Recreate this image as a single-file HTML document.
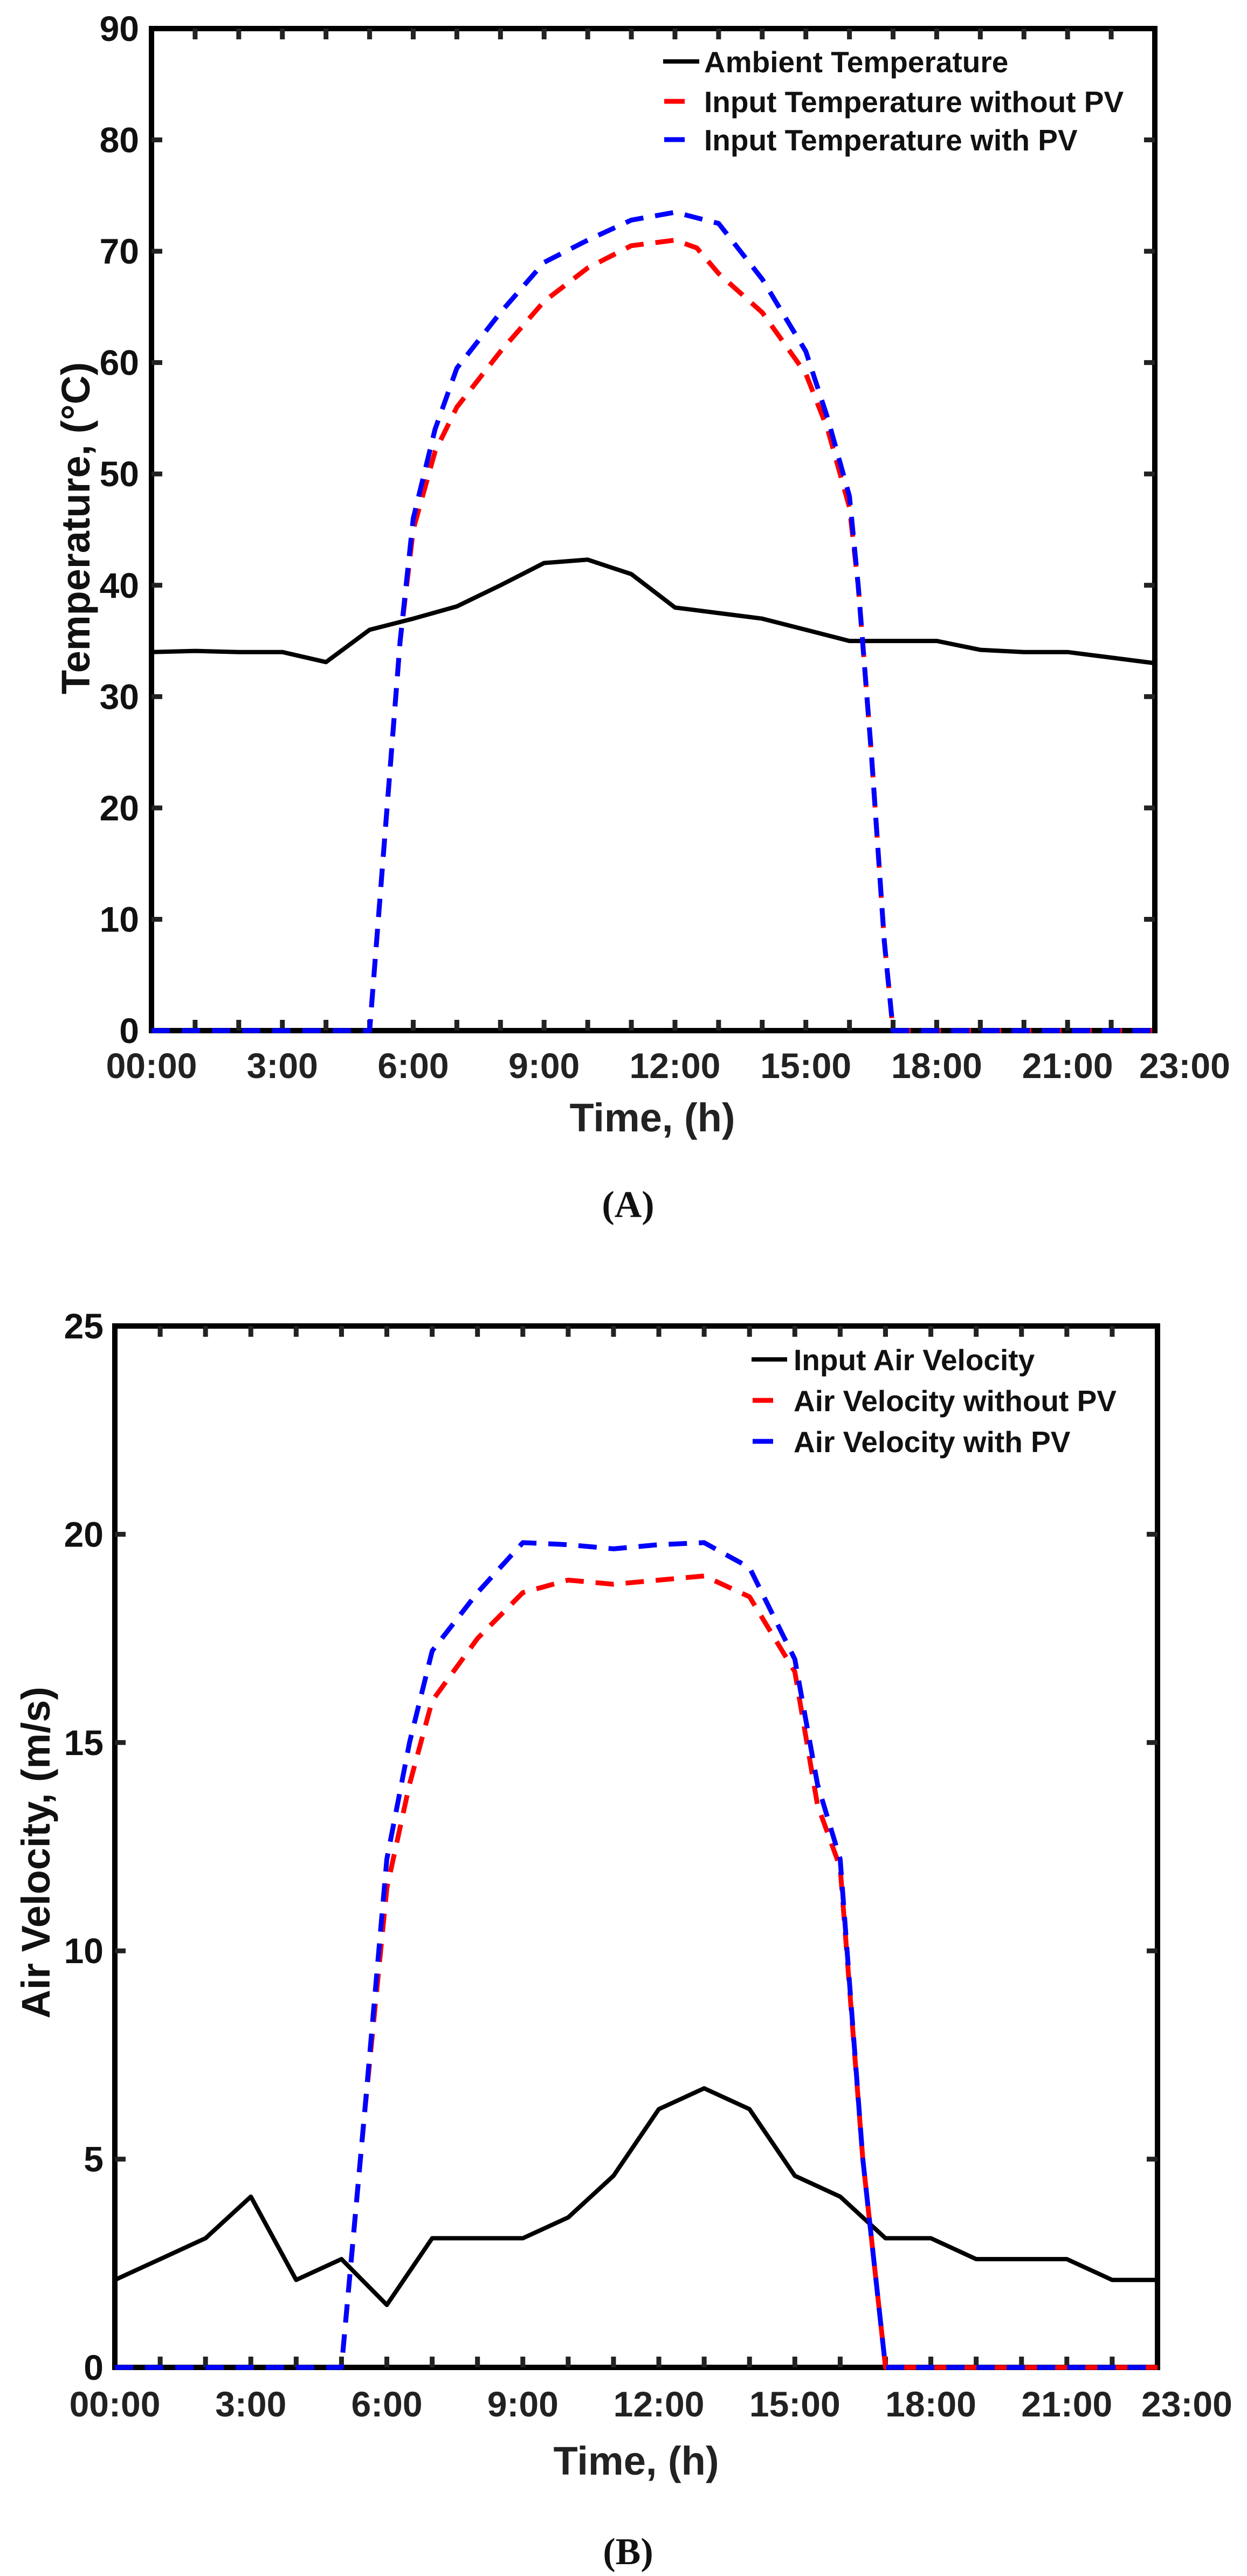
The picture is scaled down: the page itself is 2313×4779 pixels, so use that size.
<!DOCTYPE html>
<html><head><meta charset="utf-8"><style>
html,body{margin:0;padding:0;background:#fff;}
svg{display:block;}
text{font-family:"Liberation Sans",Arial,sans-serif;font-weight:bold;fill:#111;}
.cap{font-family:"Liberation Serif",serif;font-size:70px;}
</style></head><body>
<svg id="s" width="2313" height="4779" viewBox="0 0 2313 4779" xmlns="http://www.w3.org/2000/svg"></svg>
<script>
var S=document.getElementById('s');var out='';
function chart(o){
 var X=function(h){return o.x0+(o.x1-o.x0)*h/23;};
 var Y=function(v){return o.y1-(o.y1-o.y0)*v/o.ymax;};
 var i;
 // frame
 out+='<rect x="'+o.x0+'" y="'+o.y0+'" width="'+(o.x1-o.x0)+'" height="'+(o.y1-o.y0)+'" fill="none" stroke="#000" stroke-width="10"/>';
 // ticks
 for(i=1;i<23;i++){var x=X(i);
  out+='<line x1="'+x+'" y1="'+o.y1+'" x2="'+x+'" y2="'+(o.y1-20)+'" stroke="#222" stroke-width="9"/>';
  out+='<line x1="'+x+'" y1="'+o.y0+'" x2="'+x+'" y2="'+(o.y0+20)+'" stroke="#222" stroke-width="9"/>';}
 for(var v=o.ystep;v<o.ymax;v+=o.ystep){var y=Y(v);
  out+='<line x1="'+o.x0+'" y1="'+y+'" x2="'+(o.x0+20)+'" y2="'+y+'" stroke="#222" stroke-width="9"/>';
  out+='<line x1="'+o.x1+'" y1="'+y+'" x2="'+(o.x1-20)+'" y2="'+y+'" stroke="#222" stroke-width="9"/>';}
 function pl(pts,col,dash,w){var s='';pts.forEach(function(p){s+=X(p[0]).toFixed(1)+','+Y(p[1]).toFixed(1)+' ';});
  out+='<polyline points="'+s+'" fill="none" stroke="'+col+'" stroke-width="'+w+'" stroke-linejoin="round" '+(dash?'stroke-dasharray="34 22"':'')+'/>';}
 pl(o.amb,'#000',false,8);
 pl(o.red,'#ff0000',true,9);
 pl(o.blue,'#0000ff',true,9);
 // y labels
 for(v=0;v<=o.ymax;v+=o.ystep){out+='<text x="'+o.ylx+'" y="'+(Y(v)+23)+'" font-size="66" text-anchor="end">'+v+'</text>';}
 var xl=[[0,'00:00'],[3,'3:00'],[6,'6:00'],[9,'9:00'],[12,'12:00'],[15,'15:00'],[18,'18:00'],[21,'21:00']];
 xl.forEach(function(a){out+='<text x="'+X(a[0])+'" y="'+(o.xly+23)+'" font-size="66" text-anchor="middle" style="fill:#222">'+a[1]+'</text>';});
 out+='<text x="'+o.l23+'" y="'+(o.xly+23)+'" font-size="66" text-anchor="start" style="fill:#222">23:00</text>';
 out+='<text x="'+o.tx+'" y="'+(o.ty+26)+'" font-size="74" text-anchor="middle" style="fill:#222">Time, (h)</text>';
 out+='<text transform="translate('+(o.ytx+26)+','+o.yty+') rotate(-90)" font-size="74" text-anchor="middle">'+o.ytitle+'</text>';
 out+='<text class="cap" x="1165" y="'+(o.cy+24)+'" text-anchor="middle">'+o.cap+'</text>';
 var cols=['#000','#ff0000','#0000ff'];
 for(i=0;i<3;i++){var ly=o.ly[i];
  if(i==0)out+='<line x1="'+o.lx0+'" y1="'+ly+'" x2="'+o.lx1+'" y2="'+ly+'" stroke="#000" stroke-width="8"/>';
  else out+='<line x1="'+(o.lx0+2)+'" y1="'+ly+'" x2="'+(o.lx0+40)+'" y2="'+ly+'" stroke="'+cols[i]+'" stroke-width="9"/>';
  out+='<text x="'+o.ltx+'" y="'+(ly+20)+'" font-size="55">'+o.leg[i]+'</text>';}
}
var zeros=function(a,b){var r=[];for(var h=a;h<=b;h++)r.push([h,0]);return r;};
chart({x0:281,x1:2142,y0:53,y1:1912,ymax:90,ystep:10,ylx:258,xly:1977,l23:2113,tx:1210,ty:2073,ytx:140,yty:980,
 ytitle:'Temperature, (°C)',cap:'(A)',cy:2234,ly:[114,188,259],lx0:1230,lx1:1297,ltx:1306,
 leg:['Ambient Temperature','Input Temperature without PV','Input Temperature with PV'],
 amb:[[0,34],[1,34.1],[2,34],[3,34],[4,33.1],[5,36],[6,37],[7,38.1],[8,40],[9,42],[10,42.3],[11,41],[12,38],[13,37.5],[14,37],[15,36],[16,35],[17,35],[18,35],[19,34.2],[20,34],[21,34],[22,33.5],[23,33]],
 red:zeros(0,4).concat([[5,0],[5.4,20],[5.7,35],[6,45],[6.5,52],[7,56],[8,61],[9,65.5],[10,68.5],[11,70.5],[12,71],[12.5,70.3],[13,68],[14,64.5],[15,59],[15.5,54],[16,47],[16.2,40],[16.5,25],[16.8,8],[17,0]]).concat(zeros(18,23)),
 blue:zeros(0,4).concat([[5,0],[5.4,20],[5.7,35],[6,46],[6.5,54],[7,59.5],[8,64.5],[9,69],[10,71],[11,72.8],[12,73.5],[13,72.5],[14,67.5],[15,61],[15.5,55],[16,48],[16.2,40],[16.5,25],[16.8,8],[17,0]]).concat(zeros(18,23))
});
chart({x0:213,x1:2147,y0:2460,y1:4392,ymax:25,ystep:5,ylx:192,xly:4460,l23:2117,tx:1180,ty:4565,ytx:66,yty:3437,
 ytitle:'Air Velocity, (m/s)',cap:'(B)',cy:4733,ly:[2522,2598,2674],lx0:1394,lx1:1460,ltx:1472,
 leg:['Input Air Velocity','Air Velocity without PV','Air Velocity with PV'],
 amb:[[0,2.1],[1,2.6],[2,3.1],[3,4.1],[4,2.1],[5,2.6],[6,1.5],[7,3.1],[8,3.1],[9,3.1],[10,3.6],[11,4.6],[12,6.2],[13,6.7],[14,6.2],[15,4.6],[16,4.1],[17,3.1],[18,3.1],[19,2.6],[20,2.6],[21,2.6],[22,2.1],[23,2.1]],
 red:zeros(0,4).concat([[5,0],[5.5,6],[6,11.5],[6.5,14],[7,16],[8,17.5],[9,18.6],[10,18.9],[11,18.8],[12,18.9],[13,19],[14,18.5],[15,16.7],[15.5,13.5],[16,12],[16.5,5],[17,0]]).concat(zeros(18,23)),
 blue:zeros(0,4).concat([[5,0],[5.5,6],[6,12.2],[6.5,15],[7,17.2],[8,18.6],[9,19.8],[10,19.75],[11,19.65],[12,19.75],[13,19.8],[14,19.2],[15,17],[15.5,14],[16,12.2],[16.5,5],[17,0]]).concat(zeros(18,23))
});
S.innerHTML=out;
</script>
</body></html>
